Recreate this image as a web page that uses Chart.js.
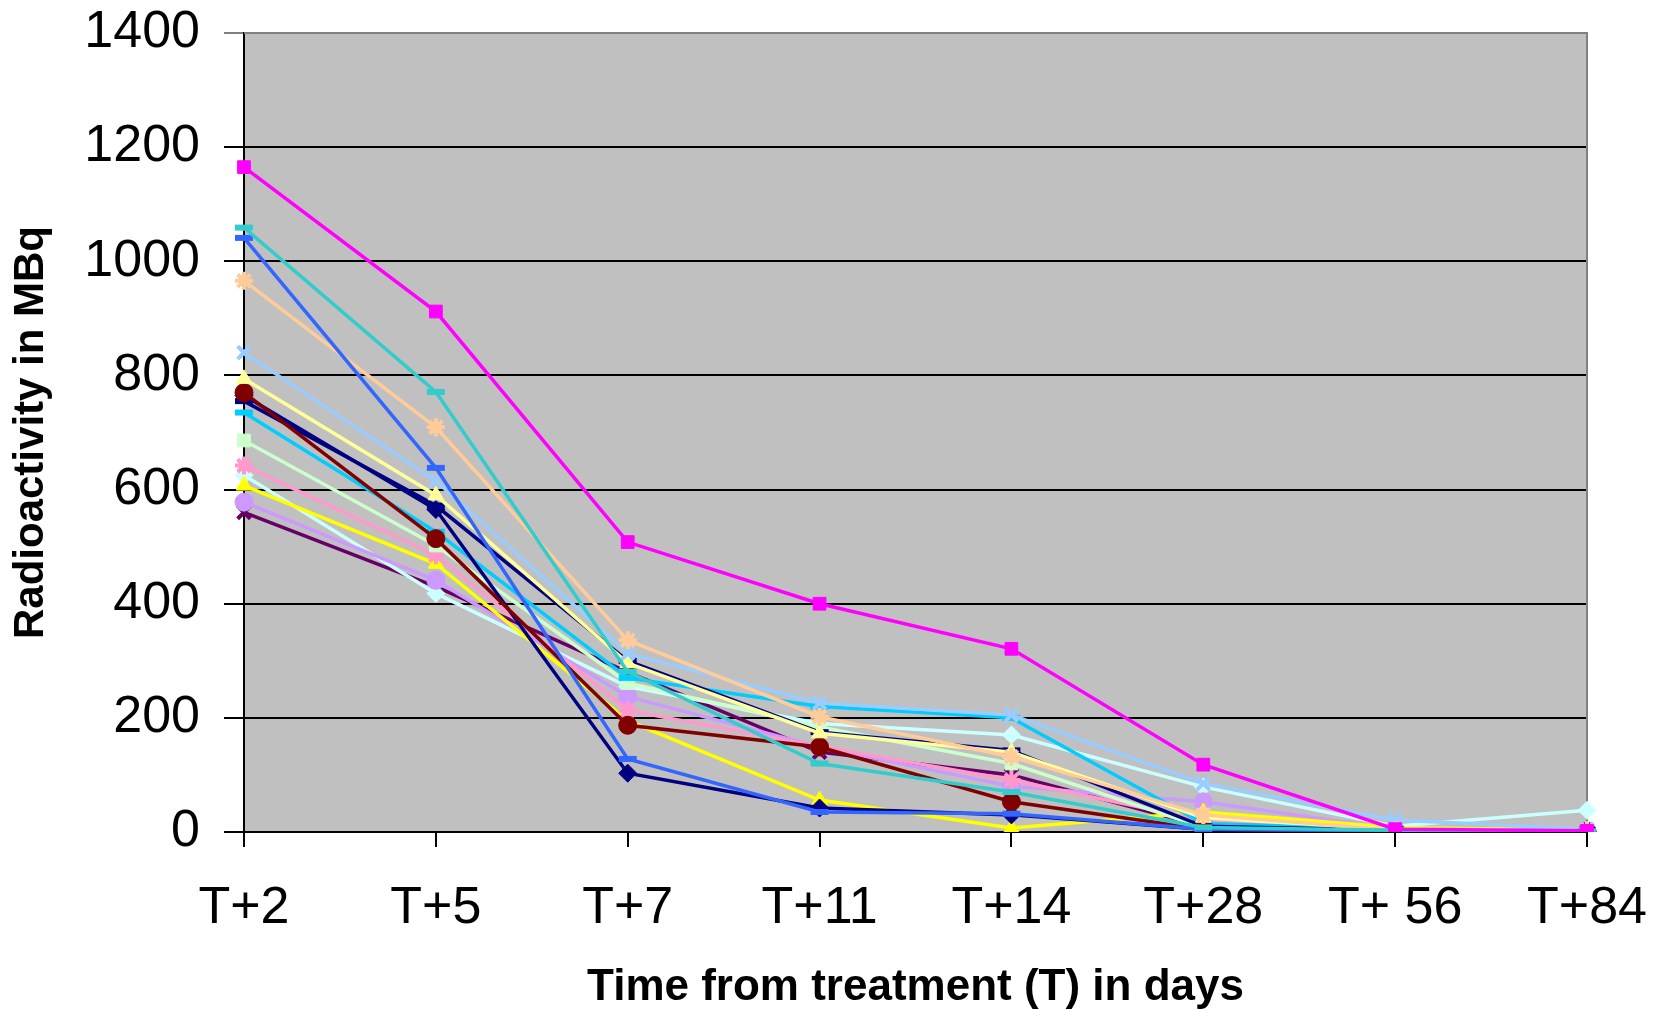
<!DOCTYPE html>
<html>
<head>
<meta charset="utf-8">
<script src="https://cdn.jsdelivr.net/npm/chart.js@4/dist/chart.umd.min.js"></script>
<style>
  html, body { margin: 0; padding: 0; background: #fff; }
  #wrap { width: 1654px; height: 1010px; }
</style>
</head>
<body>
<div id="wrap"><canvas id="myChart" width="1654" height="1010"></canvas></div>
<script>
const days = ['T+2', 'T+5', 'T+7', 'T+11', 'T+14', 'T+28', 'T+ 56', 'T+84'];
const yTicks = [0, 200, 400, 600, 800, 1000, 1200, 1400];

// one array per patient (MBq)
const p1 = [1165, 912, 508, 400, 321, 118, 5, 2];
const p2 = [1059, 771, 281, 120, 70, 8, 3, 1];
const p3 = [1041, 638, 128, 35, 32, 5, 2, 1];
const p4 = [966, 709, 336, 202, 132, 30, 3, 2];
const p5 = [840, 615, 313, 226, 205, 85, 21, 5];
const p6 = [794, 590, 296, 173, 140, 25, 5, 2];
const p7 = [770, 514, 187, 149, 53, 5, 2, 1];
const p8 = [765, 565, 103, 42, 30, 5, 2, 1];
const p9 = [755, 572, 300, 175, 143, 10, 3, 2];
const p10 = [735, 526, 270, 220, 200, 15, 5, 3];
const p11 = [686, 502, 261, 184, 120, 8, 3, 2];
const p12 = [642, 485, 213, 150, 91, 20, 3, 2];
const p13 = [607, 470, 195, 56, 7, 35, 8, 3];
const p14 = [578, 441, 237, 149, 80, 53, 5, 2];
const p15 = [625, 418, 255, 190, 170, 79, 10, 38];
const p16 = [560, 430, 280, 140, 100, 10, 3, 2];

const series = [
    { data: p1, color: '#FF00FF', marker: 'rect' },
    { data: p2, color: '#33CCCC', marker: 'line' },
    { data: p3, color: '#3366FF', marker: 'line' },
    { data: p4, color: '#FFCC99', marker: 'star' },
    { data: p5, color: '#99CCFF', marker: 'crossRot' },
    { data: p6, color: '#FFFF99', marker: 'triangle' },
    { data: p7, color: '#800000', marker: 'circle' },
    { data: p8, color: '#000080', marker: 'rectRot' },
    { data: p9, color: '#000080', marker: 'line' },
    { data: p10, color: '#00CCFF', marker: 'line' },
    { data: p11, color: '#CCFFCC', marker: 'rect' },
    { data: p12, color: '#FF99CC', marker: 'star' },
    { data: p13, color: '#FFFF00', marker: 'triangle' },
    { data: p14, color: '#CC99FF', marker: 'circle' },
    { data: p15, color: '#CCFFFF', marker: 'rectRot' },
    { data: p16, color: '#660066', marker: 'crossRot' }
];

// grey plot area with grey top / right edges, like the old Excel chart
const plotArea = {
    id: 'plotArea',
    beforeDraw(chart) {
        const { ctx, chartArea: a } = chart;
        ctx.save();
        ctx.fillStyle = '#C0C0C0';
        ctx.fillRect(a.left, a.top, a.right - a.left, a.bottom - a.top);
        ctx.restore();
    },
    beforeDatasetsDraw(chart) {
        const { ctx, chartArea: a } = chart;
        ctx.save();
        ctx.strokeStyle = '#808080';
        ctx.lineWidth = 2;
        ctx.beginPath();
        ctx.moveTo(a.left, a.top);
        ctx.lineTo(a.right, a.top);
        ctx.lineTo(a.right, a.bottom);
        ctx.stroke();
        ctx.restore();
    }
};

const getChart = document.getElementById('myChart');

new Chart(getChart, {
    type: 'line',
    data: {
        labels: days,
        datasets: series.map((s, i) => ({
            label: 'Patient ' + (i + 1),
            data: s.data,
            borderColor: s.color,
            backgroundColor: s.color,
            borderWidth: 3.5,
            pointStyle: s.marker,
            pointRadius: 9,
            pointBorderWidth: s.marker === 'line' ? 6 : (s.marker === 'crossRot' || s.marker === 'star' ? 4 : 1),
            tension: 0
        }))
    },
    options: {
        responsive: false,
        animation: false,
        layout: { padding: { left: 0, right: 67, top: 33, bottom: 0 } },
        plugins: {
            legend: { display: false },
            tooltip: { enabled: false }
        },
        scales: {
            x: {
                offset: false,
                afterFit(scale) {
                    scale.height = 178;
                    scale.paddingLeft = 0;
                    scale.paddingRight = 0;
                },
                border: { color: '#000', width: 2 },
                grid: { drawOnChartArea: false, drawTicks: true, tickLength: 15, color: '#000', lineWidth: 2 },
                ticks: {
                    color: '#000',
                    padding: 30,
                    maxRotation: 0,
                    font: { family: 'Liberation Sans, Arial', size: 52 }
                },
                title: {
                    display: true,
                    text: 'Time from treatment (T) in days',
                    color: '#000',
                    padding: { top: 0, bottom: 0 },
                    font: { family: 'Liberation Sans, Arial', size: 44, weight: 'bold', lineHeight: 1.0 }
                }
            },
            y: {
                min: 0,
                max: 1400,
                afterFit(scale) {
                    scale.width = 244;
                    scale.paddingTop = 0;
                    scale.paddingBottom = 0;
                },
                afterBuildTicks(scale) { scale.ticks = yTicks.map(v => ({ value: v })); },
                border: { color: '#000', width: 2 },
                grid: {
                    color: ctx => (ctx.tick && ctx.tick.value === 1400 ? '#808080' : '#000'),
                    lineWidth: 2,
                    tickLength: 20
                },
                ticks: {
                    color: '#000',
                    padding: 24,
                    callback: v => String(v),
                    font: { family: 'Liberation Sans, Arial', size: 52 }
                },
                title: {
                    display: true,
                    text: 'Radioactivity in MBq',
                    color: '#000',
                    padding: { top: 6, bottom: 0 },
                    font: { family: 'Liberation Sans, Arial', size: 42, weight: 'bold' }
                }
            }
        }
    },
    plugins: [plotArea]
});
</script>
</body>
</html>
